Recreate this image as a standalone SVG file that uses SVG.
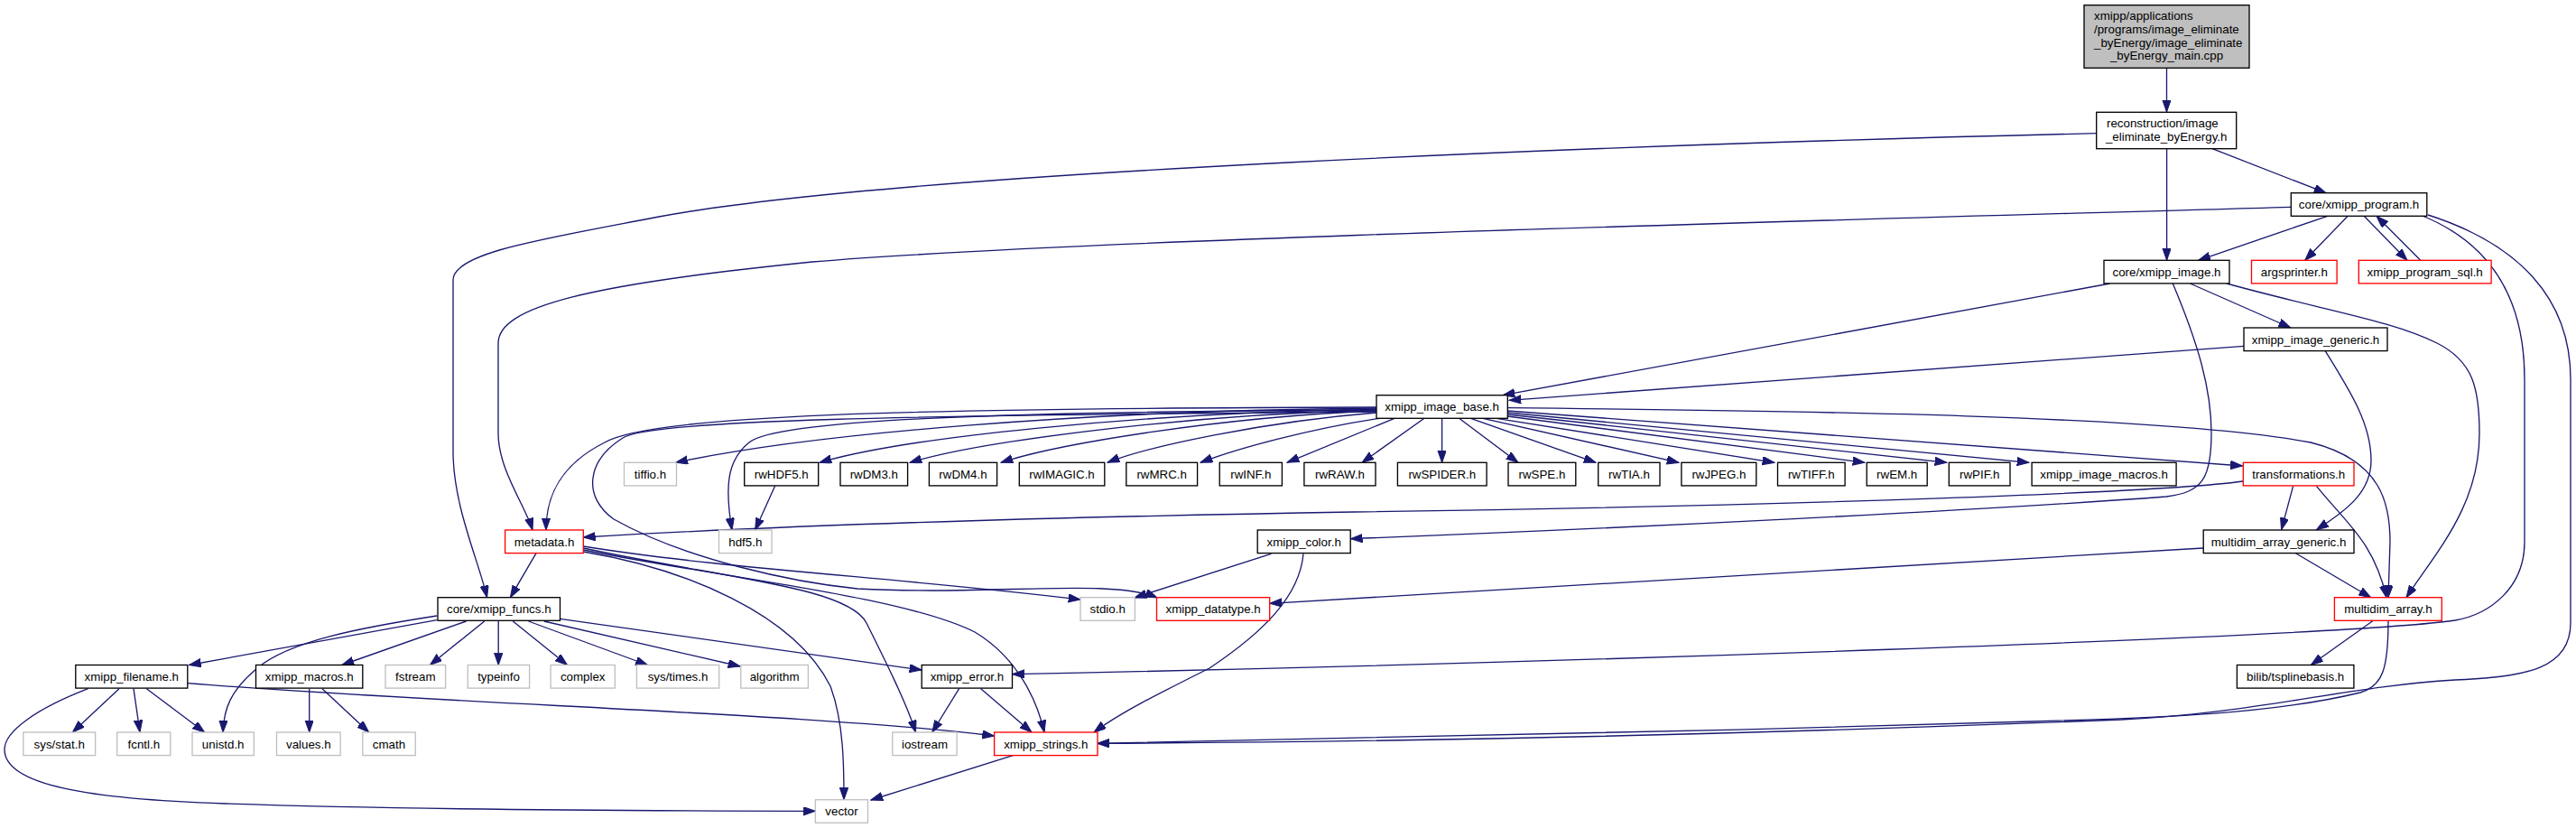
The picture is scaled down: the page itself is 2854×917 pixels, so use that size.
<svg xmlns="http://www.w3.org/2000/svg" width="2854" height="917" viewBox="0 0 2854 917">
<style>
.n rect{fill:#fff;stroke:#000;stroke-width:1.33}
.r rect{stroke:#ff0000}
.g rect{stroke:#bfbfbf}
.m rect{fill:#bfbfbf}
text{font-family:"Liberation Sans",Arial,Helvetica,sans-serif;font-size:13.33px;fill:#000;text-anchor:middle}
#edges path{fill:none;stroke:#191970;stroke-width:1.33;marker-end:url(#a)}
</style>
<defs>
<marker id="a" markerUnits="userSpaceOnUse" markerWidth="14" markerHeight="10" refX="13.3" refY="4.67" orient="auto">
<path d="M0,0 L13.3,4.67 L0,9.33 z" fill="#191970" stroke="#191970" stroke-width="1"/>
</marker>
</defs>
<rect width="2854" height="917" fill="#fff"/>
<g id="edges">
<path d="M2400.5,75.3 L2400.5,124"/>
<path d="M2323,147.7 C1800,160 1000,190 730,240 C600,265 502,280 502,310 L502,500 C502,560 530,620 539.6,661.7"/>
<path d="M2400.6,164.7 L2400.6,288.3"/>
<path d="M2451,164.7 L2577,213.7"/>
<path d="M2538,229.3 C2000,245 1200,265 900,290 C650,315 552,340 552,380 L552,480 C552,520 582,560 590,587"/>
<path d="M2578.7,239.3 L2435.7,288.3"/>
<path d="M2601.2,239.3 L2553.7,288.3"/>
<path d="M2619.2,239.3 L2667,288.3"/>
<path d="M2681.7,288.3 L2633,239.3"/>
<path d="M2683.8,239 C2760,270 2797,330 2797,420 L2797,600 C2797,650 2760,680 2720,687 C2600,705 1700,735 1121.5,746.7"/>
<path d="M2690,238 C2790,270 2848,330 2848,420 L2848,690 C2848,740 2800,750 2720,753 C2600,760 2500,790 2350,797 C1900,815 1500,822 1216,823.3"/>
<path d="M2646,687.3 C2646,740 2640,760 2615,767 C2520,790 2400,795 2250,799 C1900,810 1500,818 1216,823.3"/>
<path d="M2337.6,314 L1665,437.7"/>
<path d="M2426.5,314 L2537.8,363"/>
<path d="M2467,314 C2580,345 2650,355 2700,380 C2740,400 2747,430 2747,480 C2747,560 2700,610 2666,661.7"/>
<path d="M2407.3,314 C2435,380 2450,430 2450,480 C2450,530 2440,545 2400,550 C2200,565 1800,585 1496.2,596.7"/>
<path d="M2486,383.3 L1672,443.3"/>
<path d="M2576.2,388.7 C2605,435 2627,470 2627,510 C2627,545 2600,565 2566.5,586.7"/>
<path d="M1525,451 C1000,452 720,460 670,490 C620,515 605,550 605,587"/>
<path d="M1525,452 C1200,455 900,480 748.7,512.3"/>
<path d="M1525,454 C1100,456 860,465 830,490 C805,510 803,540 811,587"/>
<path d="M1525,453 C1250,458 1000,485 908,512.3"/>
<path d="M1525,454 C1300,460 1080,490 1008,512.3"/>
<path d="M1525,455 C1350,462 1170,492 1109,512.3"/>
<path d="M1525,457 C1400,467 1270,495 1227,512.3"/>
<path d="M1530,463 C1450,475 1370,497 1330,512.3"/>
<path d="M1545,463.3 L1426,512.3"/>
<path d="M1578,463.3 L1509,512.3"/>
<path d="M1597.6,463.3 L1597.6,512.3"/>
<path d="M1616.6,463.3 L1682,512.3"/>
<path d="M1629.5,463.3 L1768,512.3"/>
<path d="M1643,463.3 L1860,512.3"/>
<path d="M1658,463.3 L1966,512.3"/>
<path d="M1670,461 L2066,512.3"/>
<path d="M1670,459 L2157,512.3"/>
<path d="M1670,457 L2248,512.3"/>
<path d="M1670,455 L2484.5,516"/>
<path d="M1670.3,451.7 C2000,455 2400,460 2560,490 C2640,510 2648,560 2648,600 L2646,661.7"/>
<path d="M1525,456 C1000,460 720,465 690,485 C650,510 645,550 680,575 C760,620 880,645 950,652 C1100,660 1230,640 1282,662"/>
<path d="M858.6,538.3 L836.6,587"/>
<path d="M2485,533 C2400,545 2000,560 1500,567 C1200,572 900,580 646.3,595"/>
<path d="M2540.6,538.3 L2527.6,586.7"/>
<path d="M2566.5,538.3 C2600,580 2630,600 2644,661.7"/>
<path d="M2543.5,612.7 L2626.7,661.7"/>
<path d="M2441,607 L1406.7,668.3"/>
<path d="M2629.4,687.3 L2560.5,736.3"/>
<path d="M594,612.7 L565.4,661.7"/>
<path d="M646.3,611 C760,630 880,680 920,760 C935,800 935,850 935,885.7"/>
<path d="M646.3,605 C800,630 1000,640 1197,664"/>
<path d="M646.3,607 C800,640 940,650 960,690 C980,730 1005,780 1014.5,811"/>
<path d="M646.3,609 C800,640 1000,660 1080,700 C1130,730 1150,780 1157,811"/>
<path d="M1408.3,613.3 L1257,662"/>
<path d="M1444,613.3 C1440,660 1400,700 1340,740 C1280,770 1240,790 1212,811"/>
<path d="M484,686.7 L209.5,736.5"/>
<path d="M484,682 C400,695 320,710 285,740 C255,765 248,785 247,811"/>
<path d="M516.6,688 L378.8,736.5"/>
<path d="M536.7,688 L476.4,736.5"/>
<path d="M552.2,688 L552.2,736.5"/>
<path d="M568.3,688 L628.5,736.5"/>
<path d="M585.5,688 L717.5,736.5"/>
<path d="M602.7,688 L820,738"/>
<path d="M620.5,685.3 L1021,742"/>
<path d="M132,762.7 L80.4,811"/>
<path d="M148,762.7 L155,811"/>
<path d="M162.4,762.7 L226.7,811"/>
<path d="M97.6,762.7 C40,785 5,810 5,830 C5,870 100,885 250,890 C450,897 700,898 903.4,898.3"/>
<path d="M207.8,756.7 C500,780 900,790 1101.6,815"/>
<path d="M342.7,762.7 L342.7,811"/>
<path d="M357,762.7 L408.7,811"/>
<path d="M1062.6,762.7 L1032.8,811"/>
<path d="M1086.7,762.7 L1143,811"/>
<path d="M1122.3,836.7 L964.8,886"/>
</g>
<g id="n_main" class="n m"><rect x="2309" y="5.7" width="183" height="69.6"/><text x="2320" y="22.2" style="text-anchor:start">xmipp/applications</text><text x="2320" y="36.8" style="text-anchor:start">/programs/image_eliminate</text><text x="2320" y="51.5" style="text-anchor:start">_byEnergy/image_eliminate</text><text x="2400.5" y="66.2">_byEnergy_main.cpp</text></g>
<g id="n_recon" class="n"><rect x="2322.7" y="124.3" width="155" height="40.4"/><text x="2334" y="141.3" style="text-anchor:start">reconstruction/image</text><text x="2400.2" y="156">_eliminate_byEnergy.h</text></g>
<g id="n_program" class="n"><rect x="2538.3" y="213.7" width="150.5" height="25.6"/><text x="2613.5" y="231.4">core/xmipp_program.h</text></g>
<g id="n_image" class="n"><rect x="2331" y="288.3" width="139" height="25.6"/><text x="2400.5" y="306">core/xmipp_image.h</text></g>
<g id="n_argsprinter" class="n r"><rect x="2494.5" y="288.3" width="94.6" height="25.6"/><text x="2541.8" y="306">argsprinter.h</text></g>
<g id="n_sql" class="n r"><rect x="2613.3" y="288.3" width="146.8" height="25.6"/><text x="2686.7" y="306">xmipp_program_sql.h</text></g>
<g id="n_generic" class="n"><rect x="2486" y="363" width="159" height="25.6"/><text x="2565.5" y="380.7">xmipp_image_generic.h</text></g>
<g id="n_base" class="n"><rect x="1525" y="437.7" width="145.3" height="25.6"/><text x="1597.6" y="455.4">xmipp_image_base.h</text></g>
<g id="n_tiffio" class="n g"><rect x="691.5" y="512.3" width="58" height="25.6"/><text x="720.5" y="530">tiffio.h</text></g>
<g id="n_rwHDF5" class="n"><rect x="824.7" y="512.3" width="82" height="25.6"/><text x="865.7" y="530">rwHDF5.h</text></g>
<g id="n_rwDM3" class="n"><rect x="931" y="512.3" width="74.6" height="25.6"/><text x="968.3" y="530">rwDM3.h</text></g>
<g id="n_rwDM4" class="n"><rect x="1029.4" y="512.3" width="75.2" height="25.6"/><text x="1067" y="530">rwDM4.h</text></g>
<g id="n_rwIMAGIC" class="n"><rect x="1129.3" y="512.3" width="94.5" height="25.6"/><text x="1176.5" y="530">rwIMAGIC.h</text></g>
<g id="n_rwMRC" class="n"><rect x="1247.8" y="512.3" width="78.8" height="25.6"/><text x="1287.2" y="530">rwMRC.h</text></g>
<g id="n_rwINF" class="n"><rect x="1351.2" y="512.3" width="69.2" height="25.6"/><text x="1385.8" y="530">rwINF.h</text></g>
<g id="n_rwRAW" class="n"><rect x="1444.9" y="512.3" width="79.1" height="25.6"/><text x="1484.5" y="530">rwRAW.h</text></g>
<g id="n_rwSPIDER" class="n"><rect x="1548.4" y="512.3" width="98.7" height="25.6"/><text x="1597.8" y="530">rwSPIDER.h</text></g>
<g id="n_rwSPE" class="n"><rect x="1671" y="512.3" width="74.8" height="25.6"/><text x="1708.4" y="530">rwSPE.h</text></g>
<g id="n_rwTIA" class="n"><rect x="1770.7" y="512.3" width="68.3" height="25.6"/><text x="1804.9" y="530">rwTIA.h</text></g>
<g id="n_rwJPEG" class="n"><rect x="1862.9" y="512.3" width="82.9" height="25.6"/><text x="1904.4" y="530">rwJPEG.h</text></g>
<g id="n_rwTIFF" class="n"><rect x="1969.5" y="512.3" width="74.6" height="25.6"/><text x="2006.8" y="530">rwTIFF.h</text></g>
<g id="n_rwEM" class="n"><rect x="2068.2" y="512.3" width="67" height="25.6"/><text x="2101.7" y="530">rwEM.h</text></g>
<g id="n_rwPIF" class="n"><rect x="2159.3" y="512.3" width="67.7" height="25.6"/><text x="2193.2" y="530">rwPIF.h</text></g>
<g id="n_macros" class="n"><rect x="2251.1" y="512.3" width="160" height="25.6"/><text x="2331.1" y="530">xmipp_image_macros.h</text></g>
<g id="n_transformations" class="n r"><rect x="2485.3" y="512.3" width="122.7" height="25.6"/><text x="2546.7" y="530">transformations.h</text></g>
<g id="n_metadata" class="n r"><rect x="559.6" y="587" width="86.7" height="25.6"/><text x="603" y="604.7">metadata.h</text></g>
<g id="n_hdf5" class="n g"><rect x="796.5" y="587" width="58.6" height="25.6"/><text x="825.8" y="604.7">hdf5.h</text></g>
<g id="n_color" class="n"><rect x="1393.2" y="587" width="103" height="25.6"/><text x="1444.7" y="604.7">xmipp_color.h</text></g>
<g id="n_mag" class="n"><rect x="2441.2" y="587" width="166.8" height="25.6"/><text x="2524.6" y="604.7">multidim_array_generic.h</text></g>
<g id="n_funcs" class="n"><rect x="485" y="661.7" width="135.5" height="25.6"/><text x="552.8" y="679.4">core/xmipp_funcs.h</text></g>
<g id="n_stdio" class="n g"><rect x="1197" y="661.7" width="60.4" height="25.6"/><text x="1227.2" y="679.4">stdio.h</text></g>
<g id="n_datatype" class="n r"><rect x="1281.5" y="661.7" width="125.2" height="25.6"/><text x="1344.1" y="679.4">xmipp_datatype.h</text></g>
<g id="n_multidim" class="n r"><rect x="2586.4" y="661.7" width="118.9" height="25.6"/><text x="2645.9" y="679.4">multidim_array.h</text></g>
<g id="n_filename" class="n"><rect x="83.8" y="736.5" width="124" height="25.6"/><text x="145.8" y="754.2">xmipp_filename.h</text></g>
<g id="n_xmacros" class="n"><rect x="283.5" y="736.5" width="118.3" height="25.6"/><text x="342.7" y="754.2">xmipp_macros.h</text></g>
<g id="n_fstream" class="n g"><rect x="427" y="736.5" width="66.6" height="25.6"/><text x="460.3" y="754.2">fstream</text></g>
<g id="n_typeinfo" class="n g"><rect x="518.3" y="736.5" width="68.3" height="25.6"/><text x="552.5" y="754.2">typeinfo</text></g>
<g id="n_complex" class="n g"><rect x="610.1" y="736.5" width="71.2" height="25.6"/><text x="645.7" y="754.2">complex</text></g>
<g id="n_systimes" class="n g"><rect x="705.4" y="736.5" width="91.3" height="25.6"/><text x="751" y="754.2">sys/times.h</text></g>
<g id="n_algorithm" class="n g"><rect x="820.8" y="736.5" width="74.6" height="25.6"/><text x="858.1" y="754.2">algorithm</text></g>
<g id="n_error" class="n"><rect x="1021.2" y="736.5" width="100.3" height="25.6"/><text x="1071.4" y="754.2">xmipp_error.h</text></g>
<g id="n_tspline" class="n"><rect x="2478.4" y="736.5" width="129.5" height="25.6"/><text x="2543.2" y="754.2">bilib/tsplinebasis.h</text></g>
<g id="n_sysstat" class="n g"><rect x="25.8" y="811" width="79.8" height="25.6"/><text x="65.7" y="828.7">sys/stat.h</text></g>
<g id="n_fcntl" class="n g"><rect x="129.7" y="811" width="59.1" height="25.6"/><text x="159.3" y="828.7">fcntl.h</text></g>
<g id="n_unistd" class="n g"><rect x="213" y="811" width="68.3" height="25.6"/><text x="247.2" y="828.7">unistd.h</text></g>
<g id="n_values" class="n g"><rect x="306.5" y="811" width="70.6" height="25.6"/><text x="341.8" y="828.7">values.h</text></g>
<g id="n_cmath" class="n g"><rect x="401.8" y="811" width="58.5" height="25.6"/><text x="431" y="828.7">cmath</text></g>
<g id="n_iostream" class="n g"><rect x="988.8" y="811" width="71.3" height="25.6"/><text x="1024.5" y="828.7">iostream</text></g>
<g id="n_strings" class="n r"><rect x="1101.6" y="811" width="114.4" height="25.6"/><text x="1158.8" y="828.7">xmipp_strings.h</text></g>
<g id="n_vector" class="n g"><rect x="903.4" y="885.7" width="58.1" height="25.6"/><text x="932.5" y="903.4">vector</text></g>
</svg>
